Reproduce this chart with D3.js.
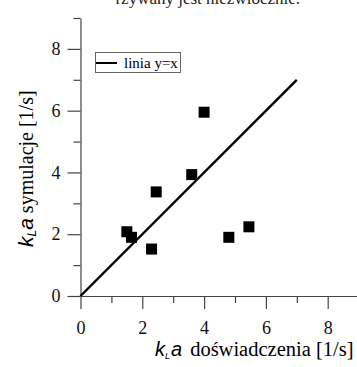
<!DOCTYPE html>
<html>
	<head>
		<meta charset="utf-8" />
		<title>kLa</title>
		<style type="text/css">
			body { margin: 0; background: #fff; }
			svg { display: block; }
		</style>
	</head>
	<body>
		<svg width="357" height="367"></svg>

		<script type="text/javascript" src="https://cdn.jsdelivr.net/npm/d3@7"></script>
		<script type="text/javascript">
			// dane
			var expX = [1.5, 1.65, 2.3, 2.45, 3.6, 4.0, 4.8, 5.45];
			var simY = [2.08, 1.9, 1.52, 3.37, 3.93, 5.95, 1.9, 2.24];
			var lineXY = [0, 7];
			var majorTicks = [0, 2, 4, 6, 8];
			var minorTicks = [1, 3, 5, 7, 9];

			var SERIF = "'Liberation Serif', 'Times New Roman', serif";
			var SANS = "'Liberation Sans', Arial, sans-serif";

			var svg = d3.select("svg");

			var x = d3.scaleLinear().domain([0, 9]).range([80.5, 358.6]);
			var y = d3.scaleLinear().domain([0, 9]).range([296, 18]);

			// ucięty tekst nad wykresem
			svg.append("text")
				.attr("x", 300).attr("y", 4)
				.attr("text-anchor", "end")
				.style("font-family", SERIF)
				.style("font-size", "17px")
				.attr("fill", "#222")
				.text("rzywany jest niezwłocznie.");

			function styleAxis(g) {
				g.selectAll("path, line").attr("stroke", "#444").attr("stroke-width", 1.2);
				g.selectAll("text")
					.style("font-family", SERIF)
					.style("font-size", "18px")
					.attr("fill", "#111");
			}

			// osie - podziałki główne i pomocnicze
			svg.append("g")
				.attr("transform", "translate(0," + y(0) + ")")
				.call(d3.axisBottom(x).tickValues(minorTicks).tickSize(7).tickSizeOuter(0).tickFormat(""))
				.call(styleAxis);
			svg.append("g")
				.attr("transform", "translate(0," + y(0) + ")")
				.call(d3.axisBottom(x).tickValues(majorTicks).tickSize(13).tickSizeOuter(0).tickPadding(12).tickFormat(d3.format("d")))
				.call(styleAxis)
				.call(function(g) { g.select(".domain").remove(); });

			svg.append("g")
				.attr("transform", "translate(" + x(0) + ",0)")
				.call(d3.axisLeft(y).tickValues(minorTicks).tickSize(7).tickSizeOuter(0).tickFormat(""))
				.call(styleAxis);
			svg.append("g")
				.attr("transform", "translate(" + x(0) + ",0)")
				.call(d3.axisLeft(y).tickValues(majorTicks).tickSize(13).tickSizeOuter(0).tickPadding(7).tickFormat(d3.format("d")))
				.call(styleAxis)
				.call(function(g) { g.select(".domain").remove(); });

			// linia y=x
			svg.append("line")
				.attr("x1", x(lineXY[0])).attr("y1", y(lineXY[0]))
				.attr("x2", x(lineXY[1])).attr("y2", y(lineXY[1]))
				.attr("stroke", "#000").attr("stroke-width", 2.4);

			// punkty
			var sz = 11;
			svg.append("g").selectAll("rect")
				.data(expX)
				.enter().append("rect")
				.attr("x", function(d) { return x(d) - sz / 2; })
				.attr("y", function(d, i) { return y(simY[i]) - sz / 2; })
				.attr("width", sz).attr("height", sz)
				.attr("fill", "#000");

			// legenda
			var leg = svg.append("g");
			leg.append("rect")
				.attr("x", 95.5).attr("y", 52.5).attr("width", 85).attr("height", 20)
				.attr("fill", "#fff").attr("stroke", "#666").attr("stroke-width", 1);
			leg.append("line")
				.attr("x1", 96).attr("x2", 117).attr("y1", 63).attr("y2", 63)
				.attr("stroke", "#000").attr("stroke-width", 2);
			leg.append("text")
				.attr("x", 124).attr("y", 68)
				.style("font-family", SERIF)
				.style("font-size", "15px")
				.text("linia y=x");

			// opisy osi
			var xl = svg.append("text")
				.attr("x", 155).attr("y", 356)
				.style("font-size", "20.5px");
			xl.append("tspan").style("font-family", SANS).style("font-style", "italic").style("font-size", "20px").text("k");
			xl.append("tspan").style("font-family", SANS).style("font-style", "italic").style("font-size", "9px").attr("dy", 3).text("L");
			xl.append("tspan").style("font-family", SANS).style("font-style", "italic").style("font-size", "20px").attr("dy", -3).attr("dx", 1).text("a");
			xl.append("tspan").style("font-family", SERIF).attr("dx", 8).text("doświadczenia [1/s]");

			var yl = svg.append("text")
				.attr("transform", "translate(33,247) rotate(-90)")
				.attr("text-anchor", "start")
				.style("font-size", "20px");
			yl.append("tspan").style("font-family", SANS).style("font-style", "italic").style("font-size", "21px").text("k");
			yl.append("tspan").style("font-family", SANS).style("font-style", "italic").style("font-size", "12px").attr("dy", 3).text("L");
			yl.append("tspan").style("font-family", SANS).style("font-style", "italic").style("font-size", "21px").attr("dy", -3).text("a");
			yl.append("tspan").style("font-family", SERIF).attr("dx", 5).text("symulacje [1/s]");
		</script>
	</body>
</html>
